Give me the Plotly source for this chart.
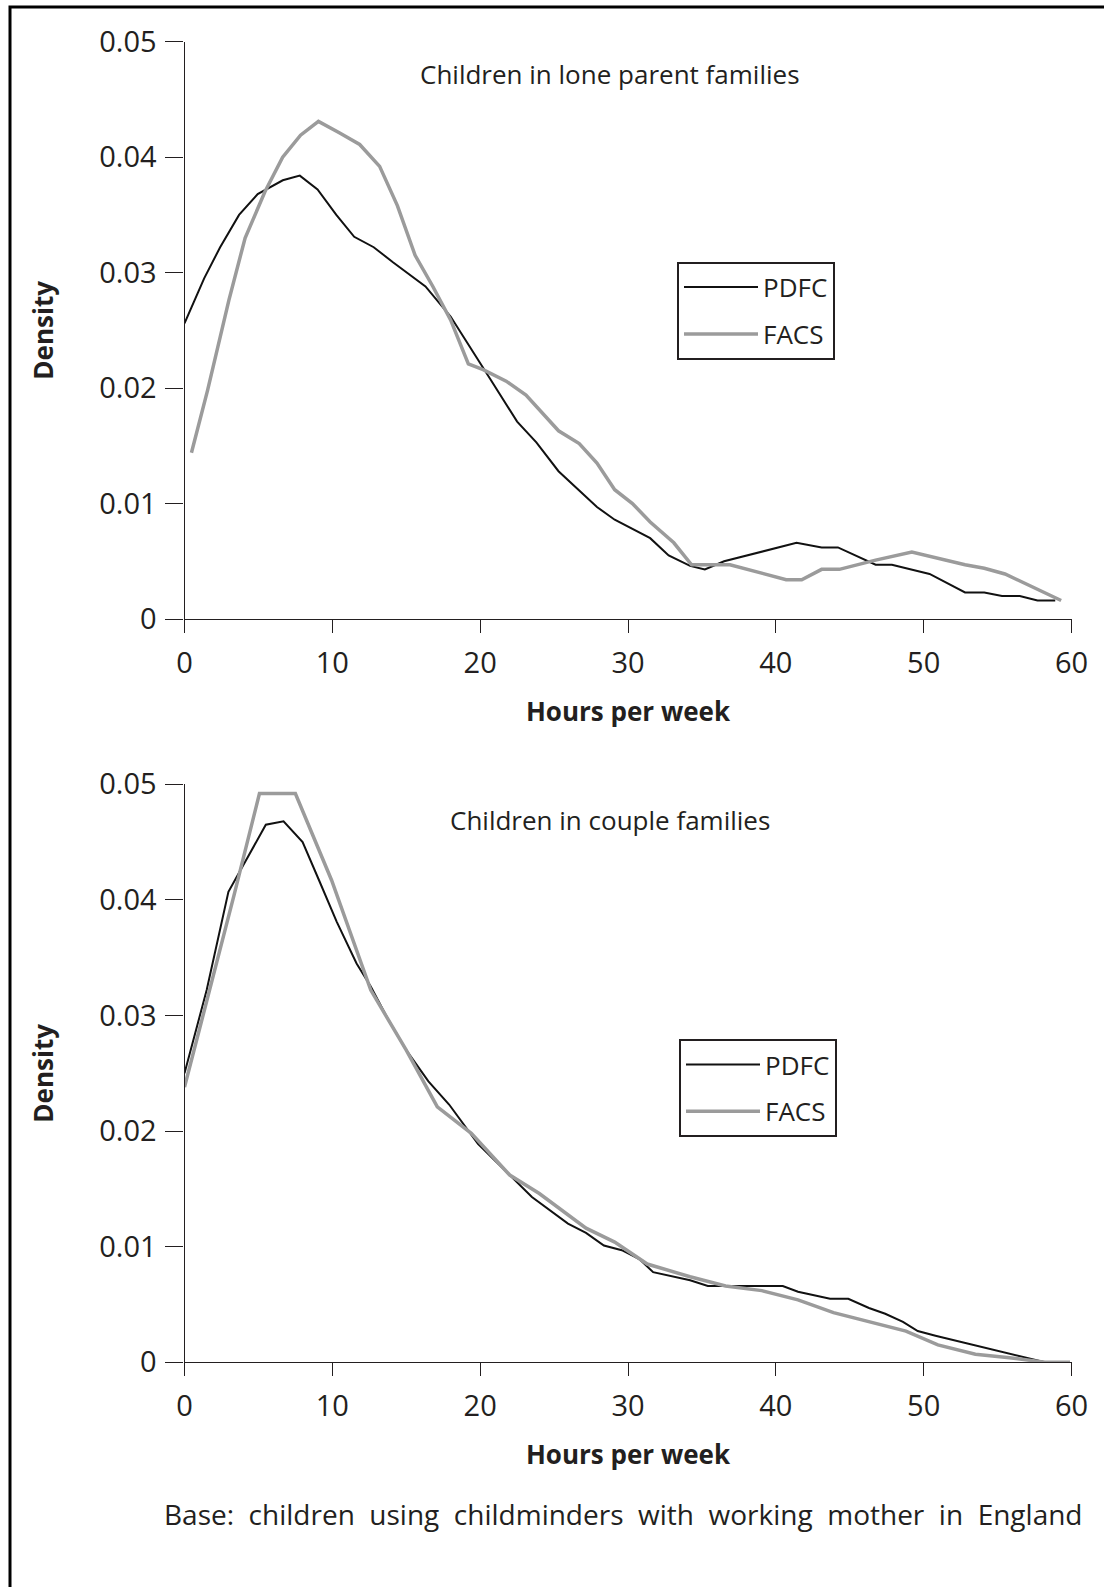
import plotly.graph_objects as go

W, H = 1104, 1587

# ---------------- data ----------------
lone_pdfc_x = [0, 1.33, 2.41, 3.69, 4.95, 6.65, 7.8, 9.0, 10.27, 11.48, 12.8, 14.1, 16.3, 18.0, 20.67,
               22.5, 23.8, 25.3, 27.9, 29.1, 31.5, 32.75, 34.2, 35.2, 36.5, 41.4, 43.1, 44.2, 46.75,
               47.85, 50.4, 52.8, 54.1, 55.3, 56.5, 57.7, 58.9]
lone_pdfc_y = [0.0256, 0.0295, 0.0322, 0.0350, 0.0368, 0.0380, 0.0384, 0.0372, 0.0350, 0.0331, 0.0322,
               0.0309, 0.0288, 0.0262, 0.0208, 0.0171, 0.0153, 0.0128, 0.0097, 0.0086, 0.0070, 0.0055,
               0.0046, 0.0043, 0.0050, 0.0066, 0.0062, 0.0062, 0.0047, 0.0047, 0.0039, 0.0023, 0.0023,
               0.0020, 0.0020, 0.0016, 0.0016]

lone_facs_x = [0.47, 1.56, 3.0, 4.1, 5.44, 6.64, 7.85, 9.06, 10.5, 11.85, 13.2, 14.4, 15.6, 16.8, 18.0,
               19.2, 20.2, 21.76, 23.1, 24.1, 25.3, 26.7, 27.9, 29.1, 30.3, 31.5, 33.1, 34.3, 36.9,
               40.7, 41.75, 43.1, 44.3, 46.75, 49.2, 52.8, 54.1, 55.5, 59.3]
lone_facs_y = [0.0144, 0.0198, 0.0276, 0.0330, 0.0370, 0.0400, 0.0419, 0.0431, 0.0421, 0.0411, 0.0392,
               0.0358, 0.0315, 0.0288, 0.0259, 0.0221, 0.0216, 0.0206, 0.0194, 0.0180, 0.0163, 0.0152,
               0.0135, 0.0112, 0.0100, 0.0084, 0.0066, 0.0047, 0.0047, 0.0034, 0.0034, 0.0043, 0.0043,
               0.0051, 0.0058, 0.0047, 0.0044, 0.0039, 0.0016]

couple_pdfc_x = [0, 1.5, 2.97, 4.17, 5.5, 6.7, 7.99, 9.1, 10.3, 11.64, 12.6, 13.8, 15.0, 16.5, 17.9,
                 19.85, 21.8, 23.5, 25.94, 27.16, 28.37, 29.58, 30.8, 31.7, 34.2, 35.4, 40.47, 41.5,
                 43.67, 44.9, 46.3, 47.4, 48.6, 49.6, 50.8, 58.2, 59.9]
couple_pdfc_y = [0.0250, 0.0322, 0.0407, 0.0435, 0.0465, 0.0468, 0.0450, 0.0417, 0.0381, 0.0345, 0.0325,
                 0.0296, 0.0270, 0.0243, 0.0223, 0.0189, 0.0164, 0.0143, 0.0120, 0.0112, 0.0101, 0.0097,
                 0.0089, 0.0078, 0.0071, 0.0066, 0.0066, 0.0061, 0.0055, 0.0055, 0.0047, 0.0042, 0.0035,
                 0.0027, 0.0023, 0.0000, 0.0000]

couple_facs_x = [0, 2.0, 3.33, 5.07, 7.5, 9.95, 12.6, 15.0, 17.1, 19.4, 22.0, 24.0, 27.16, 29.1, 31.3,
                 34.2, 36.6, 39.05, 41.5, 43.9, 46.35, 48.8, 50.96, 53.5, 55.8, 58.2, 59.9]
couple_facs_y = [0.0238, 0.0337, 0.0403, 0.0492, 0.0492, 0.0417, 0.0322, 0.0270, 0.0221, 0.0198, 0.0162,
                 0.0146, 0.0116, 0.0104, 0.0085, 0.0074, 0.0066, 0.0062, 0.0054, 0.0043, 0.0035, 0.0027,
                 0.0015, 0.0007, 0.0004, 0.0000, 0.0000]

x_ticks = [0, 10, 20, 30, 40, 50, 60]
y_tickvals = [0, 0.01, 0.02, 0.03, 0.04, 0.05]
y_ticktext = ["0", "0.01", "0.02", "0.03", "0.04", "0.05"]

series_names = ["PDFC", "FACS"]
panel_titles = ["Children in lone parent families", "Children in couple families"]
x_title = "Hours per week"
y_title = "Density"
footnote = "Base: children using childminders with working mother in England"

# ---------------- style ----------------
FONT = "Open Sans"
TXT = "#231f20"
AX = "#231f20"
PDFC_COLOR = "#111111"
FACS_COLOR = "#9b9b9b"
FS = 26
TICK_FS = 29
FOOT_FS = 28


def px_x(p):
    return p / W


def px_y(p):
    return 1 - p / H


x_dom = [px_x(184.5), px_x(1071.5)]
top_dom = [px_y(619), px_y(41.7)]
bot_dom = [px_y(1362.3), px_y(784.3)]

fig = go.Figure()

fig.add_trace(go.Scatter(x=lone_pdfc_x, y=lone_pdfc_y, mode="lines", name=series_names[0],
                         legendgroup="a", line=dict(color=PDFC_COLOR, width=2),
                         xaxis="x", yaxis="y", legend="legend"))
fig.add_trace(go.Scatter(x=lone_facs_x, y=lone_facs_y, mode="lines", name=series_names[1],
                         legendgroup="b", line=dict(color=FACS_COLOR, width=3.5),
                         xaxis="x", yaxis="y", legend="legend"))
fig.add_trace(go.Scatter(x=couple_pdfc_x, y=couple_pdfc_y, mode="lines", name=series_names[0],
                         legendgroup="c", line=dict(color=PDFC_COLOR, width=2),
                         xaxis="x2", yaxis="y2", legend="legend2"))
fig.add_trace(go.Scatter(x=couple_facs_x, y=couple_facs_y, mode="lines", name=series_names[1],
                         legendgroup="d", line=dict(color=FACS_COLOR, width=3.5),
                         xaxis="x2", yaxis="y2", legend="legend2"))

xaxis_common = dict(range=[0, 60], tickvals=x_ticks, ticks="outside", ticklen=13, tickwidth=1.2,
                    tickcolor=AX, showline=True, linecolor=AX, linewidth=1.2, showgrid=False,
                    zeroline=False, tickfont=dict(family=FONT, size=TICK_FS, color=TXT),
                    ticklabelstandoff=5,
                    title=dict(text=x_title, font=dict(family=FONT, size=FS, color=TXT, weight="bold"),
                               standoff=22),
                    automargin=False, fixedrange=True)
yaxis_common = dict(range=[0, 0.05], tickvals=y_tickvals, ticktext=y_ticktext, ticks="outside",
                    ticklen=18, tickwidth=1.2, tickcolor=AX, showline=True, linecolor=AX, linewidth=1.2,
                    showgrid=False, zeroline=False, tickfont=dict(family=FONT, size=TICK_FS, color=TXT),
                    ticklabelstandoff=3,
                    title=dict(text=y_title, font=dict(family=FONT, size=FS, color=TXT, weight="bold"),
                               standoff=38),
                    automargin=False, fixedrange=True)

legend_common = dict(bgcolor="white", bordercolor="#231f20", borderwidth=2,
                     font=dict(family=FONT, size=FS, color=TXT), xanchor="left", yanchor="top",
                     itemwidth=74, tracegroupgap=10)

fig.update_layout(
    width=W, height=H,
    margin=dict(l=0, r=0, t=0, b=0),
    paper_bgcolor="white", plot_bgcolor="white",
    showlegend=True,
    xaxis=dict(domain=x_dom, anchor="y", **xaxis_common),
    yaxis=dict(domain=top_dom, anchor="x", **yaxis_common),
    xaxis2=dict(domain=x_dom, anchor="y2", **xaxis_common),
    yaxis2=dict(domain=bot_dom, anchor="x2", **yaxis_common),
    legend=dict(x=px_x(677), y=px_y(261.7), **legend_common),
    legend2=dict(x=px_x(679), y=px_y(1039), **legend_common),
    annotations=[
        dict(text=panel_titles[0], x=px_x(610), y=px_y(74), xref="paper", yref="paper",
             showarrow=False, xanchor="center", yanchor="middle",
             font=dict(family=FONT, size=FS, color=TXT)),
        dict(text=panel_titles[1], x=px_x(610), y=px_y(820), xref="paper", yref="paper",
             showarrow=False, xanchor="center", yanchor="middle",
             font=dict(family=FONT, size=FS, color=TXT)),
        dict(text=footnote.replace(" ", "\u00a0\u00a0"), x=px_x(1085), y=px_y(1514),
             xref="paper", yref="paper", showarrow=False, xanchor="right", yanchor="middle",
             font=dict(family=FONT, size=FOOT_FS, color=TXT)),
    ],
    shapes=[
        dict(type="rect", xref="paper", yref="paper", x0=px_x(10), x1=px_x(1130),
             y0=px_y(1620), y1=px_y(7), line=dict(color="black", width=3), fillcolor="rgba(0,0,0,0)",
             layer="below"),
    ],
)

fig.write_html("out.html", config={"displayModeBar": False},
               post_script="document.body.style.margin='0px';")
